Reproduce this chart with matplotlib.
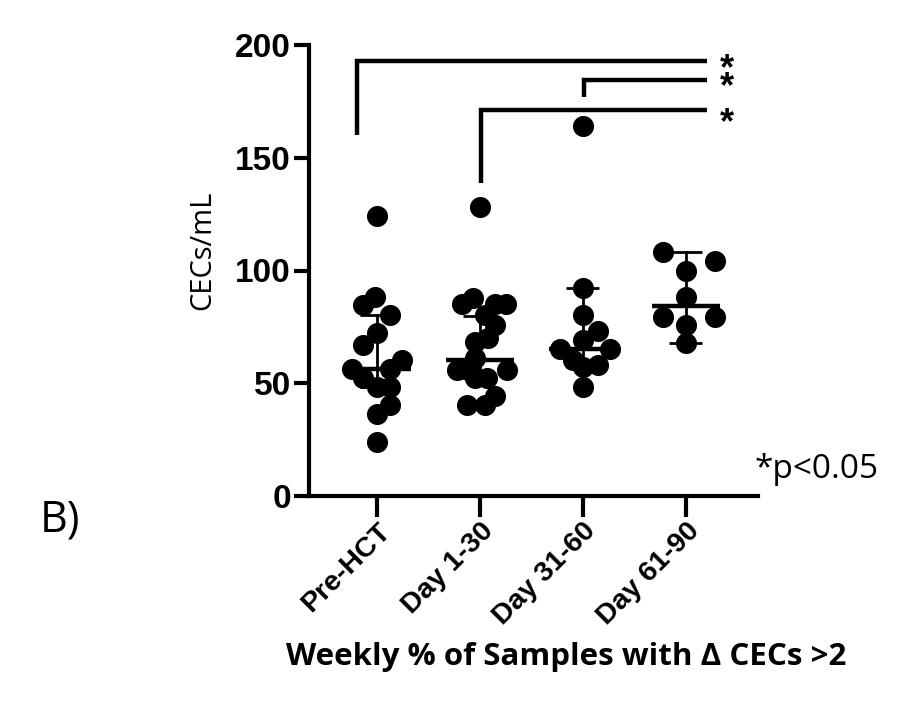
import matplotlib.pyplot as plt
import matplotlib.transforms as mtransforms
import numpy as np

groups = ['Pre-HCT', 'Day 1-30', 'Day 31-60', 'Day 61-90']

# CECs/mL values, with the horizontal scatter offset of each dot
pre_hct = [124, 88.4, 84.9, 80.4, 72.4, 67, 60.4, 56.4, 56.4, 52.4, 48.4, 48.4, 40.4, 36.4, 24]
pre_hct_dx = [0, -0.02, -0.14, 0.13, 0, -0.14, 0.24, -0.24, 0.13, -0.14, 0, 0.13, 0.13, 0, 0]

day_1_30 = [128, 88, 85, 85, 85, 80.4, 76, 70, 68.4, 61, 56, 56, 56, 52.4, 52.4, 44.4, 40.4, 40.4]
day_1_30_dx = [0, -0.07, -0.17, 0.15, 0.25, 0.05, 0.15, 0.08, -0.05, -0.05, -0.22, -0.12, 0.26,
               -0.05, 0.07, 0.15, -0.13, 0.05]

day_31_60 = [164, 92.4, 80.4, 73, 69, 65, 65, 60.4, 58, 57, 48.4]
day_31_60_dx = [0, 0, 0, 0.15, 0, -0.22, 0.26, -0.10, 0.15, 0, 0]

day_61_90 = [108.4, 104, 100, 88.4, 79.6, 79.6, 76, 68]
day_61_90_dx = [-0.22, 0.28, 0, 0, -0.22, 0.28, 0, 0]

medians = [56.4, 60.4, 65, 84.4]
err_low = [48.4, 52.4, 57, 68]
err_high = [80.4, 80, 92.4, 108.4]

# significance brackets: (left x, leg bottom, bar height)
brackets = [(-0.194, 160, 192.9), (2.01, 177, 184.4), (1.01, 138.7, 171)]
bracket_right = 3.204

fig = plt.figure(figsize=(9.24, 7.07), dpi=100)
ax = fig.add_axes([309 / 924, 1 - 496 / 707, (758 - 309) / 924, (496 - 45) / 707])

values = [pre_hct, day_1_30, day_31_60, day_61_90]
offsets = [pre_hct_dx, day_1_30_dx, day_31_60_dx, day_61_90_dx]
for i, (vals, dx) in enumerate(zip(values, offsets)):
    xs = i + np.array(dx)
    ax.scatter(xs, vals, s=230, color='black', zorder=3, clip_on=False, linewidths=0)
    # median line and error bars
    ax.plot([i - 0.33, i + 0.33], [medians[i], medians[i]], color='black', lw=3.2, zorder=4,
            solid_capstyle='butt')
    ax.plot([i, i], [err_low[i], err_high[i]], color='black', lw=2, zorder=2)
    for y in (err_low[i], err_high[i]):
        ax.plot([i - 0.16, i + 0.16], [y, y], color='black', lw=2, zorder=2,
                solid_capstyle='butt')

for x0, leg, h in brackets:
    ax.plot([x0, x0, bracket_right], [leg, h, h], color='black', lw=3.2, clip_on=False,
            solid_joinstyle='miter', solid_capstyle='butt')

# the three stars as one block of text, lines spaced like the brackets
ax.text(3.40, 197.0, '*\n*\n\n*', fontsize=26, fontweight='bold', ha='center', va='top',
        linespacing=0.37, family='Liberation Sans', transform=ax.transData)

ax.set_xlim(-0.66, 3.70)
ax.set_ylim(0, 200)
ax.set_yticks([0, 50, 100, 150, 200])
ax.set_xticks(range(len(groups)))
ax.set_xticklabels(groups, rotation=45, ha='right', rotation_mode='anchor',
                   fontsize=20.5, fontweight='bold', family='Liberation Sans')
for lab in ax.get_yticklabels():
    lab.set_fontsize(24)
    lab.set_fontweight('bold')
    lab.set_family('Liberation Sans')

# nudge the slanted labels up and left, closer to the tick ends
shift = mtransforms.ScaledTranslation(-4 / 100, 8 / 100, fig.dpi_scale_trans)
for lab in ax.get_xticklabels():
    lab.set_transform(lab.get_transform() + shift)

for side in ('top', 'right'):
    ax.spines[side].set_visible(False)
for side in ('left', 'bottom'):
    ax.spines[side].set_linewidth(3)
ax.tick_params(axis='y', length=11, width=3, pad=2)
ax.tick_params(axis='x', length=15, width=3, pad=1)

fig.text(203 / 924, 1 - 250 / 707, 'CECs/mL', rotation=90, fontsize=21, ha='center', va='center',
         family='Open Sans')
fig.text(566 / 924, 1 - 657 / 707, 'Weekly % of Samples with Δ CECs >2', fontsize=22.5,
         fontweight='bold', ha='center', va='center', family='Open Sans')
fig.text(40 / 924, 1 - 520 / 707, 'B)', fontsize=31, ha='left', va='center', family='Open Sans')
fig.text(755 / 924, 1 - 470 / 707, '*p<0.05', fontsize=24, ha='left', va='center',
         family='Open Sans')

fig.savefig('out.png', dpi=100)
